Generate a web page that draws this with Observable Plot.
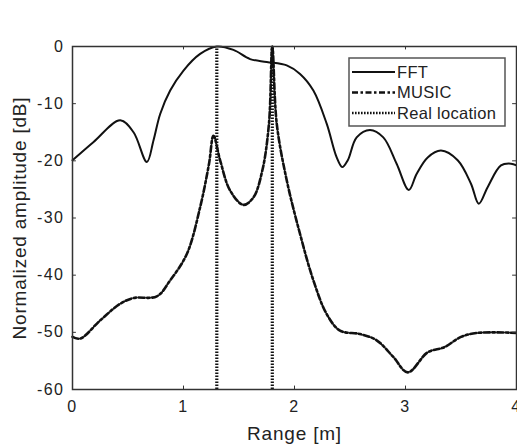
<!DOCTYPE html>
<html>
<head>
<meta charset="utf-8">
<script src="https://cdn.jsdelivr.net/npm/d3@7"></script>
<script src="https://cdn.jsdelivr.net/npm/@observablehq/plot@0.6"></script>
<style>
  html, body { margin: 0; padding: 0; background: #fff; }
  #chart { position: relative; width: 517px; height: 445px; }
  svg { font-family: "Liberation Sans", Arial, sans-serif; }
  svg g[aria-label="x-axis tick label"] text,
  svg g[aria-label="y-axis tick label"] text { letter-spacing: 1.5px; }
  svg g[aria-label="x-axis label"] text,
  svg g[aria-label="y-axis label"] text { letter-spacing: 0.8px; }
</style>
</head>
<body>
<div id="chart"></div>
<script>
const xTicks = [0, 1, 2, 3, 4];
const yTicks = [0, -10, -20, -30, -40, -50, -60];

const fftX = [0, 0.19, 0.43, 0.55, 0.67, 0.73, 0.79, 0.88, 1.0, 1.15, 1.30, 1.45, 1.60, 1.75, 1.93, 2.05, 2.17, 2.29, 2.38, 2.43, 2.48, 2.56, 2.68, 2.80, 2.92, 3.03, 3.10, 3.20, 3.32, 3.47, 3.59, 3.66, 3.74, 3.86, 3.95, 4.0];
const fftY = [-19.9, -16.7, -12.9, -15.0, -20.2, -16.4, -11.8, -7.7, -4.2, -1.3, 0, -0.6, -2.2, -2.7, -3.3, -4.8, -7.7, -13.5, -19.4, -21.1, -19.9, -15.9, -14.6, -15.9, -20.5, -25.1, -22.3, -19.4, -18.2, -19.9, -24.0, -27.5, -24.6, -20.8, -20.5, -20.8];

const musicX = [0, 0.07, 0.25, 0.43, 0.55, 0.76, 0.88, 1.03, 1.15, 1.23, 1.27, 1.33, 1.42, 1.54, 1.63, 1.71, 1.77, 1.80, 1.84, 1.93, 2.05, 2.17, 2.29, 2.41, 2.59, 2.74, 2.89, 3.02, 3.20, 3.35, 3.50, 3.65, 4.0];
const musicY = [-50.8, -51.1, -47.9, -45.0, -44.0, -43.7, -40.9, -36.3, -28.1, -20.5, -15.6, -19.9, -25.2, -27.7, -26.4, -21.7, -13.5, 0, -13.5, -23.4, -32.8, -40.9, -46.8, -49.7, -50.3, -51.4, -54.3, -57.0, -53.5, -52.6, -50.8, -50.1, -50.1];

const realLocation = [1.3, 1.8];
const seriesNames = ["FFT", "MUSIC", "Real location"];

const fft = fftX.map((x, i) => ({x, y: fftY[i]}));
const music = musicX.map((x, i) => ({x, y: musicY[i]}));

const FONT = "Liberation Sans, Arial, sans-serif";
const dashMusic = "6,2.5,2.5,2.5";
const dashReal = "1.6,1.4";
const fmt = d => String(d);

const chart = Plot.plot({
  width: 517,
  height: 445,
  marginLeft: 72,
  marginRight: 1,
  marginTop: 46,
  marginBottom: 56,
  style: {fontFamily: FONT, fontSize: "16px", color: "#222", background: "#fff"},
  x: {domain: [0, 4]},
  y: {domain: [-60, 0]},
  marks: [
    Plot.ruleX(realLocation, {y1: -60, y2: 0, stroke: "#111", strokeWidth: 3.2, strokeDasharray: dashReal}),
    Plot.line(music, {x: "x", y: "y", stroke: "#111", strokeWidth: 2.6, strokeDasharray: dashMusic, curve: "catmull-rom"}),
    Plot.line(fft, {x: "x", y: "y", stroke: "#111", strokeWidth: 2, curve: "catmull-rom"}),
    Plot.ruleX(xTicks, {y1: -60, y2: -59.4, stroke: "#333"}),
    Plot.ruleX(xTicks, {y1: 0, y2: -0.6, stroke: "#333"}),
    Plot.ruleY(yTicks, {x1: 0, x2: 0.035, stroke: "#333"}),
    Plot.ruleY(yTicks, {x1: 4, x2: 3.965, stroke: "#333"}),
    Plot.frame({stroke: "#333", strokeWidth: 1.5}),
    Plot.axisX({ticks: xTicks, tickFormat: fmt, tickSize: 0, tickPadding: 11, fontSize: 16, label: null}),
    Plot.axisY({ticks: yTicks, tickFormat: fmt, tickSize: 0, tickPadding: 8, fontSize: 16, label: null}),
    Plot.axisX({ticks: [], tickSize: 0, label: "Range [m]", labelAnchor: "center", labelArrow: "none", labelOffset: 50, fontSize: 19}),
    Plot.axisY({ticks: [], tickSize: 0, label: "Normalized amplitude [dB]", labelAnchor: "center", labelArrow: "none", labelOffset: 60, fontSize: 19})
  ]
});

document.getElementById("chart").appendChild(chart);

// legend box inside plot area
const svg = d3.select(chart);
const lg = svg.append("g").attr("transform", "translate(349,58)");
lg.append("rect").attr("width", 156).attr("height", 68).attr("fill", "#fff").attr("stroke", "#555").attr("stroke-width", 1.5);
const styles = [
  {dash: null, w: 2},
  {dash: dashMusic, w: 2.4},
  {dash: dashReal, w: 2.6}
];
seriesNames.forEach((name, i) => {
  const yy = 14 + i * 20.5;
  lg.append("line").attr("x1", 3).attr("x2", 46).attr("y1", yy).attr("y2", yy)
    .attr("stroke", "#111").attr("stroke-width", styles[i].w)
    .attr("stroke-dasharray", styles[i].dash);
  lg.append("text").attr("x", 48).attr("y", yy).attr("dy", "0.36em")
    .attr("text-anchor", "start").attr("letter-spacing", "0.3px")
    .attr("font-size", 16.5).attr("font-family", FONT).attr("fill", "#222").text(name);
});
</script>
</body>
</html>
